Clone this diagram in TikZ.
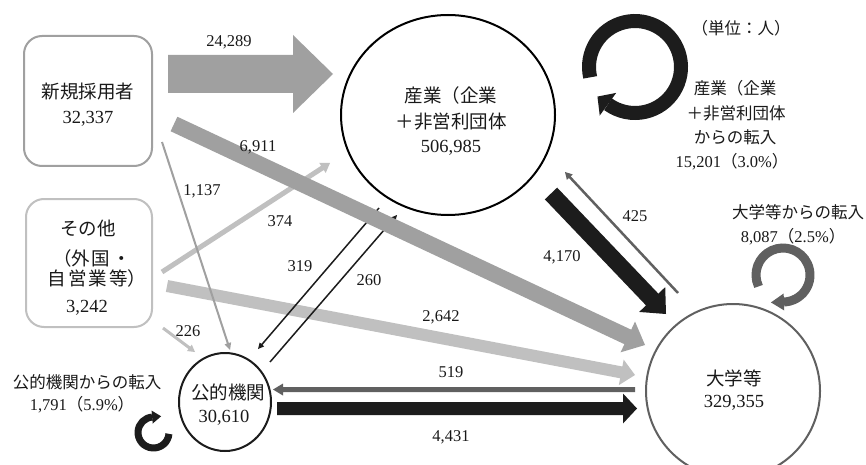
\documentclass[tikz,border=0pt]{standalone}
\usepackage{fontspec}
\setmainfont{Liberation Serif}
\newfontfamily\jp{Noto Sans CJK JP}
\usetikzlibrary{calc,shapes.geometric}
\definecolor{gA}{RGB}{160,160,160}
\definecolor{gB}{RGB}{192,192,192}
\definecolor{gC}{RGB}{96,96,96}
\definecolor{dk}{RGB}{28,28,28}
\definecolor{tx}{RGB}{25,25,25}
% block arrow: colour, start, end, half shaft width, half head width, head length
\newcommand\barrow[6]{%
  \coordinate (baA) at (#2);
  \coordinate (baB) at (#3);
  \coordinate (baH) at ($(baB)!#6!(baA)$);
  \fill[#1] ($(baA)!#4!90:(baB)$) -- ($(baH)!#4!90:(baB)$) -- ($(baH)!#5!90:(baB)$)
    -- (baB) -- ($(baH)!#5!-90:(baB)$) -- ($(baH)!#4!-90:(baB)$) -- ($(baA)!#4!-90:(baB)$) -- cycle;
}
\tikzset{
  rbox/.style={rectangle, rounded corners=18pt, line width=2pt, inner sep=0pt},
  nt/.style={font=\fontsize{18.5}{22}\selectfont, inner sep=0pt, text=tx},
  lt/.style={font=\fontsize{16.5}{20}\selectfont, inner sep=0pt, text=tx},
}
\begin{document}
\begin{tikzpicture}[x=1pt,y=1pt]
\useasboundingbox (0,0) rectangle (866,464);
\fill[white] (0,0) rectangle (866,464);

% ---- main nodes
\node[rbox, draw=gA, minimum width=128pt, minimum height=130pt] (new) at (88,363) {};
\node[rbox, draw=gB, minimum width=126pt, minimum height=128pt] (oth) at (89,201) {};
\node[ellipse, draw=black, line width=2pt, minimum width=214pt, minimum height=200pt, inner sep=0pt] (ind) at (448,349) {};
\node[circle, draw=gC, line width=2pt, minimum size=174pt, inner sep=0pt] (uni) at (733,73) {};
\node[ellipse, draw=dk, line width=2pt, minimum width=92pt, minimum height=98pt, inner sep=0pt] (pub) at (225,62) {};

% ---- node texts
\node[nt] (newA) at (88,372) {\jp 新規採用者};
\node[nt] (newB) at (88,345) {32,337};
\node[nt] (othA) at (88,236) {\jp その他};
\node[nt] (othB) at (92,206) {\jp （外\hspace{2pt}国\hspace{2pt}・};
\node[nt] (othC) at (97,186) {\jp 自\hspace{2pt}営\hspace{2pt}業\hspace{2pt}等）};
\node[nt] (othD) at (87,156) {3,242};
\node[nt] (indA) at (451,369) {\jp 産業（企業};
\node[nt] (indB) at (451,342) {\jp ＋非営利団体};
\node[nt] (indC) at (451,316) {506,985};
\node[nt] (uniA) at (734,86) {\jp 大学等};
\node[nt] (uniB) at (734,61) {329,355};
\node[nt] (pubA) at (228,72) {\jp 公的機関};
\node[nt] (pubB) at (224,46) {30,610};

% ---- free labels
\node[lt] (unit) at (741,436) {\jp （単位：人）};
\node[lt] (iA) at (735,376) {\jp 産業（企業};
\node[lt] (iB) at (736,351) {\jp ＋非営利団体};
\node[lt] (iC) at (735,327) {\jp からの転入};
\node[lt] (iD) at (732,302) {15,201{\jp （}3.0\%{\jp ）}};
\node[lt] (uA) at (798,252) {\jp 大学等からの転入};
\node[lt] (uB) at (793,227) {8,087{\jp （}2.5\%{\jp ）}};
\node[lt] (pA) at (87,82) {\jp 公的機関からの転入};
\node[lt] (pB) at (82,59) {1,791{\jp （}5.9\%{\jp ）}};

% ---- arrow end points
\coordinate (a1s) at (168,390);  \coordinate (a1e) at (333,390);
\coordinate (a2s) at (174,340);  \coordinate (a2e) at (645,119);
\coordinate (a3s) at (162,322);  \coordinate (a3e) at (230,114);
\coordinate (a4s) at (162,192);  \coordinate (a4e) at (330,301);
\coordinate (a5s) at (167,178);  \coordinate (a5e) at (635,89);
\coordinate (a6s) at (163,136);  \coordinate (a6e) at (195,112);
\coordinate (a7s) at (379,256);  \coordinate (a7e) at (258,115);
\coordinate (a8s) at (270,102);  \coordinate (a8e) at (397,249);
\coordinate (a9s) at (551,270.5);\coordinate (a9e) at (666,150);
\coordinate (a10s) at (678,171); \coordinate (a10e) at (565,292);
\coordinate (a11s) at (635,74.5);\coordinate (a11e) at (273,74.5);
\coordinate (a12s) at (277,55.5);\coordinate (a12e) at (637,55.5);

% ---- arrows
\barrow{gA}{a1s}{a1e}{19pt}{39pt}{40pt}
\barrow{gB}{a4s}{a4e}{2.5pt}{6pt}{9pt}
\barrow{gB}{a5s}{a5e}{6pt}{13pt}{14pt}
\barrow{gB}{a6s}{a6e}{1.5pt}{4pt}{7pt}
\barrow{gA}{a3s}{a3e}{1pt}{3.5pt}{7pt}
\barrow{dk}{a7s}{a7e}{0.75pt}{3pt}{6pt}
\barrow{dk}{a8s}{a8e}{0.75pt}{3pt}{6pt}
\barrow{gA}{a2s}{a2e}{8pt}{17pt}{19pt}
\barrow{dk}{a9s}{a9e}{8.5pt}{18pt}{20pt}
\barrow{gC}{a10s}{a10e}{1.25pt}{4pt}{7pt}
\barrow{gC}{a11s}{a11e}{2.5pt}{6pt}{10pt}
\barrow{dk}{a12s}{a12e}{6.5pt}{15pt}{14pt}

% ---- arrow labels
\node[lt] (l1) at (229,422) {24,289};
\node[lt] (l2) at (258,317) {6,911};
\node[lt] (l3) at (202,273) {1,137};
\node[lt] (l4) at (280,243) {374};
\node[lt] (l7) at (300,198) {319};
\node[lt] (l8) at (369,184) {260};
\node[lt] (l6) at (188,133) {226};
\node[lt] (l5) at (441,147) {2,642};
\node[lt] (l9) at (562,207) {4,170};
\node[lt] (l10) at (635,248) {425};
\node[lt] (l11) at (451,92) {519};
\node[lt] (l12) at (451,27) {4,431};

% ---- self loops
\coordinate (lpI) at (635,397);
\draw[dk, line width=14pt] ($(lpI)+(193:46)$) arc[start angle=193, end angle=-126, radius=46];
\fill[dk] ($(lpI)+(234:60)$) -- ($(lpI)+(234:32)$) -- ($(lpI)+(234:46)+(144:13)$) -- cycle;

\coordinate (lpU) at (783,189);
\draw[gC, line width=9pt] ($(lpU)+(205:27)$) arc[start angle=205, end angle=-88, radius=27];
\fill[gC] ($(lpU)+(272:35.5)$) -- ($(lpU)+(272:18.5)$) -- ($(lpU)+(272:27)+(182:13)$) -- cycle;

\coordinate (lpP) at (153.5,31.5);
\draw[dk, line width=7pt] ($(lpP)+(-5:15.5)$) arc[start angle=-5, end angle=-265, radius=15.5];
\fill[dk] ($(lpP)+(95:22)$) -- ($(lpP)+(95:9)$) -- ($(lpP)+(95:15.5)+(5:9)$) -- cycle;
\end{tikzpicture}
\end{document}
